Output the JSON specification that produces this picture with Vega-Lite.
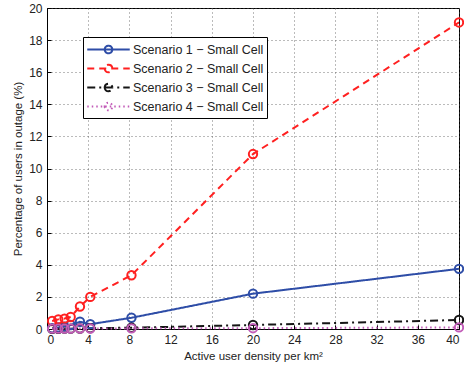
{
  "$schema": "https://vega.github.io/schema/vega-lite/v6.json",
  "autosize": {"type": "none"},
  "padding": {"left": 47, "top": 8, "right": 5, "bottom": 40},
  "width": 412,
  "height": 321,
  "background": "white",
  "config": {
    "font": "Liberation Sans",
    "view": {"stroke": "black", "strokeWidth": 1},
    "axis": {
      "domainColor": "black",
      "tickColor": "black",
      "labelColor": "#222",
      "titleColor": "#222",
      "labelFontSize": 12,
      "titleFontSize": 11.5,
      "titleFontWeight": "normal",
      "grid": true,
      "gridColor": "#555",
      "gridDash": [1, 3],
      "gridOpacity": 0.8,
      "tickSize": -4,
      "labelPadding": 9
    },
    "legend": {
      "title": null,
      "orient": "none",
      "legendX": 36,
      "legendY": 29,
      "strokeColor": "black",
      "fillColor": "white",
      "padding": 3,
      "labelFontSize": 12.5,
      "labelColor": "#222",
      "symbolType": "M-2.5,0L2.5,0M-0.45,0A0.45,0.45 0 1,0 0.45,0A0.45,0.45 0 1,0 -0.45,0",
      "symbolSize": 289,
      "symbolStrokeWidth": 2,
      "symbolFillColor": "transparent",
      "symbolOffset": 13,
      "rowPadding": 1,
      "labelOffset": 15
    }
  },
  "data": {
    "values": [
      {"x": 0.5, "y": 0.05, "series": "Scenario 1 − Small Cell"},
      {"x": 1.1, "y": 0.1, "series": "Scenario 1 − Small Cell"},
      {"x": 1.7, "y": 0.15, "series": "Scenario 1 − Small Cell"},
      {"x": 2.3, "y": 0.25, "series": "Scenario 1 − Small Cell"},
      {"x": 3.2, "y": 0.45, "series": "Scenario 1 − Small Cell"},
      {"x": 4.2, "y": 0.3, "series": "Scenario 1 − Small Cell"},
      {"x": 8.2, "y": 0.7, "series": "Scenario 1 − Small Cell"},
      {"x": 20, "y": 2.2, "series": "Scenario 1 − Small Cell"},
      {"x": 40, "y": 3.75, "series": "Scenario 1 − Small Cell"},
      {"x": 0.5, "y": 0.5, "series": "Scenario 2 − Small Cell"},
      {"x": 1.1, "y": 0.6, "series": "Scenario 2 − Small Cell"},
      {"x": 1.7, "y": 0.65, "series": "Scenario 2 − Small Cell"},
      {"x": 2.3, "y": 0.75, "series": "Scenario 2 − Small Cell"},
      {"x": 3.2, "y": 1.4, "series": "Scenario 2 − Small Cell"},
      {"x": 4.2, "y": 2.0, "series": "Scenario 2 − Small Cell"},
      {"x": 8.2, "y": 3.35, "series": "Scenario 2 − Small Cell"},
      {"x": 20, "y": 10.9, "series": "Scenario 2 − Small Cell"},
      {"x": 40, "y": 19.1, "series": "Scenario 2 − Small Cell"},
      {"x": 0.5, "y": 0.01, "series": "Scenario 3 − Small Cell"},
      {"x": 1.1, "y": 0.01, "series": "Scenario 3 − Small Cell"},
      {"x": 1.7, "y": 0.02, "series": "Scenario 3 − Small Cell"},
      {"x": 2.3, "y": 0.02, "series": "Scenario 3 − Small Cell"},
      {"x": 3.2, "y": 0.03, "series": "Scenario 3 − Small Cell"},
      {"x": 4.2, "y": 0.05, "series": "Scenario 3 − Small Cell"},
      {"x": 8.2, "y": 0.08, "series": "Scenario 3 − Small Cell"},
      {"x": 20, "y": 0.25, "series": "Scenario 3 − Small Cell"},
      {"x": 40, "y": 0.56, "series": "Scenario 3 − Small Cell"},
      {"x": 0.5, "y": 0.02, "series": "Scenario 4 − Small Cell"},
      {"x": 1.1, "y": 0.02, "series": "Scenario 4 − Small Cell"},
      {"x": 1.7, "y": 0.02, "series": "Scenario 4 − Small Cell"},
      {"x": 2.3, "y": 0.02, "series": "Scenario 4 − Small Cell"},
      {"x": 3.2, "y": 0.03, "series": "Scenario 4 − Small Cell"},
      {"x": 4.2, "y": 0.03, "series": "Scenario 4 − Small Cell"},
      {"x": 8.2, "y": 0.04, "series": "Scenario 4 − Small Cell"},
      {"x": 20, "y": 0.05, "series": "Scenario 4 − Small Cell"},
      {"x": 40, "y": 0.1, "series": "Scenario 4 − Small Cell"}
    ]
  },
  "encoding": {
    "x": {
      "field": "x", "type": "quantitative",
      "scale": {"domain": [0, 40], "nice": false, "zero": false},
      "axis": {"values": [0, 4, 8, 12, 16, 20, 24, 28, 32, 36, 40], "title": "Active user density per km²", "titlePadding": 5}
    },
    "y": {
      "field": "y", "type": "quantitative",
      "scale": {"domain": [0, 20], "nice": false},
      "axis": {"values": [0, 2, 4, 6, 8, 10, 12, 14, 16, 18, 20], "title": "Percentage of users in outage (%)", "titlePadding": 5}
    },
    "color": {
      "field": "series", "type": "nominal",
      "scale": {
        "domain": ["Scenario 1 − Small Cell", "Scenario 2 − Small Cell", "Scenario 3 − Small Cell", "Scenario 4 − Small Cell"],
        "range": ["#2E4DA7", "#FF2020", "#151515", "#C25CB8"]
      },
      "legend": {}
    }
  },
  "layer": [
    {
      "mark": {"type": "line", "strokeWidth": 2},
      "encoding": {
        "strokeDash": {
          "field": "series", "type": "nominal",
          "scale": {
            "domain": ["Scenario 1 − Small Cell", "Scenario 2 − Small Cell", "Scenario 3 − Small Cell", "Scenario 4 − Small Cell"],
            "range": [[1, 0], [7, 5], [8, 4, 2, 4], [1.5, 3]]
          },
          "legend": {}
        }
      }
    },
    {
      "mark": {"type": "point", "shape": "circle", "filled": false, "size": 70, "strokeWidth": 2, "opacity": 1},
      "encoding": {}
    }
  ]
}
